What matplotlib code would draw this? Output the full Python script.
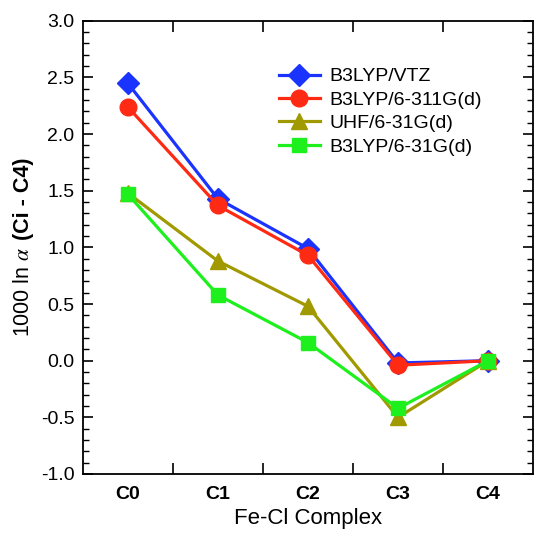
import numpy as np
import matplotlib
matplotlib.use("Agg")
import matplotlib.pyplot as plt
from matplotlib.ticker import MultipleLocator

plt.rcParams['font.family'] = ['Liberation Sans', 'DejaVu Sans']
plt.rcParams['mathtext.fontset'] = 'stix'
plt.rcParams['axes.unicode_minus'] = False

complexes = ["C0", "C1", "C2", "C3", "C4"]
vtz = [2.45, 1.43, 0.99, -0.02, 0.0]
b311 = [2.24, 1.37, 0.93, -0.04, 0.0]
uhf = [1.48, 0.88, 0.48, -0.50, 0.0]
b31 = [1.47, 0.58, 0.16, -0.42, 0.0]

x = np.arange(len(complexes))

fig = plt.figure(figsize=(5.35, 5.33), dpi=100)
ax = fig.add_axes([0.1546, 0.1107, 0.842, 0.8503])

lw = 2.3
ax.plot(x, vtz, color="#1a33ff", lw=lw, marker="D", ms=11, label="B3LYP/VTZ")
ax.plot(x, b311, color="#ff2a14", lw=lw, marker="o", ms=12, label="B3LYP/6-311G(d)")
ax.plot(x, uhf, color="#a09a00", lw=lw, marker="^", ms=12, label="UHF/6-31G(d)")
ax.plot(x, b31, color="#1ef01e", lw=lw, marker="s", ms=10.5, label="B3LYP/6-31G(d)")

ax.set_xlim(-0.5, 4.5)
ax.set_ylim(-1.0, 3.0)

# labels at integers without ticks, ticks between categories
ax.set_xticks(x)
ax.set_xticklabels(complexes, fontweight="bold", fontsize=14)
ax.set_xticks(x[:-1] + 0.5, minor=True)
ax.tick_params(axis="x", which="major", length=0, pad=9)
ax.tick_params(axis="x", which="minor", direction="in", length=8, width=1.2, top=True)

ax.yaxis.set_major_locator(MultipleLocator(0.5))
ax.yaxis.set_minor_locator(MultipleLocator(0.1))
ax.tick_params(axis="y", which="major", direction="in", length=7.5, width=1.2,
               right=True, labelsize=14, pad=6)
ax.tick_params(axis="y", which="minor", direction="in", length=4, width=1.0, right=True)

for s in ax.spines.values():
    s.set_linewidth(1.3)

ax.set_xlabel("Fe-Cl Complex", fontsize=16, labelpad=3)

# y label: regular part + bold part, stacked along the rotated direction
fig.canvas.draw()
r = fig.canvas.get_renderer()
xc = 24 / 535
t1 = fig.text(xc, 0, r"1000 ln $\alpha$", rotation=90, fontsize=15.5, ha="center", va="bottom")
t2 = fig.text(xc, 0, " (Ci - C4)", rotation=90, fontsize=15.5, fontweight="bold",
              ha="center", va="bottom")
h1 = t1.get_window_extent(r).height
h2 = t2.get_window_extent(r).height
H = fig.bbox.height
ymid = (0.1107 + 0.8503 / 2) * H
y0 = ymid - (h1 + h2) / 2
t1.set_y(y0 / H)
t2.set_y((y0 + h1) / H)

ax.legend(loc="upper right", bbox_to_anchor=(0.925, 0.935), frameon=False,
          fontsize=14, handlelength=2.1, handletextpad=0.5, labelspacing=0.3)

fig.savefig("out.png", dpi=100)
